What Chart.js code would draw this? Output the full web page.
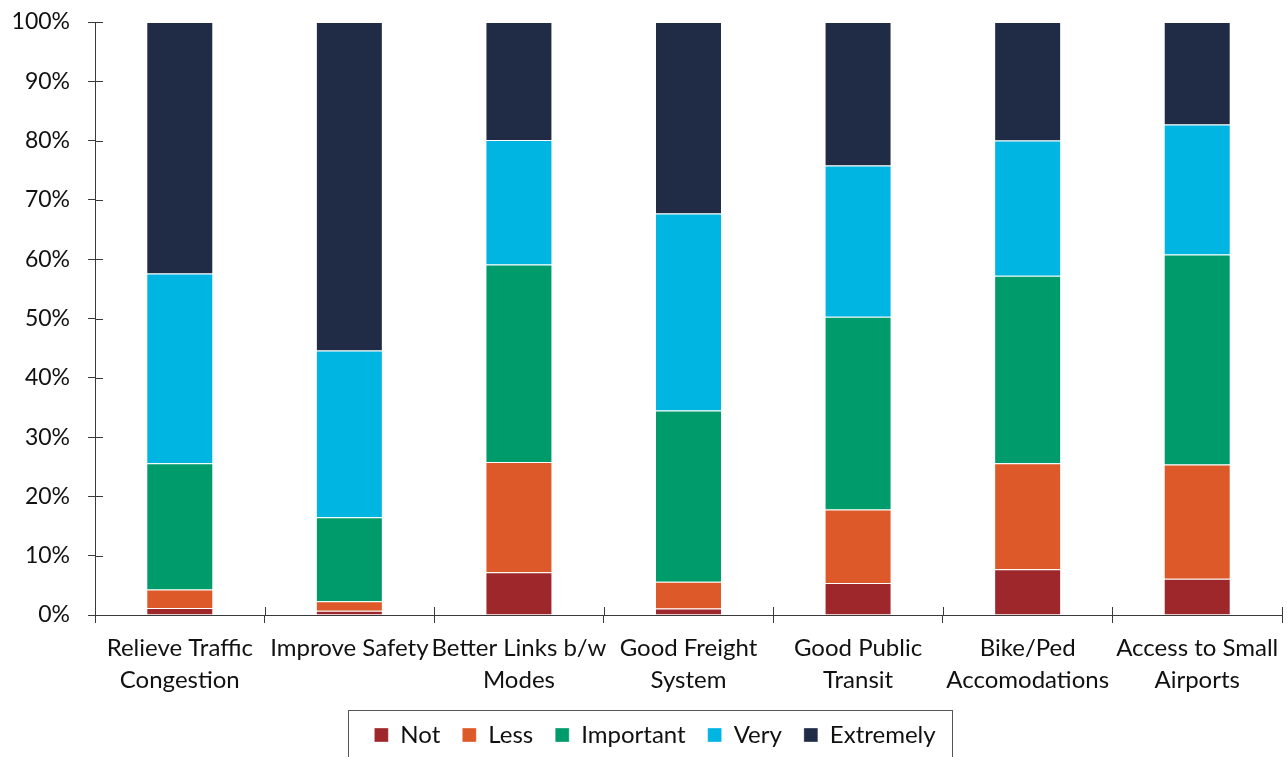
<!DOCTYPE html>
<html>
<head>
<meta charset="utf-8">
<script src="https://cdn.jsdelivr.net/npm/chart.js@4.4.1/dist/chart.umd.min.js"></script>
<style>
  html, body { margin: 0; padding: 0; background: #fff; }
  #wrap { width: 1287px; height: 757px; }
</style>
</head>
<body>
<div id="wrap"><canvas id="chart" width="1287" height="757"></canvas></div>
<script>
// categories (multi-line labels)
const categories = [
  ['Relieve Traffic', 'Congestion'],
  ['Improve Safety'],
  ['Better Links b/w', 'Modes'],
  ['Good Freight', 'System'],
  ['Good Public', 'Transit'],
  ['Bike/Ped', 'Accomodations'],
  ['Access to Small', 'Airports'],
];

// percent of respondents
const notImp    = [1.2, 0.7, 7.2, 1.1, 5.4, 7.7, 6.1];
const lessImp   = [3.1, 1.6, 18.6, 4.5, 12.4, 17.9, 19.3];
const important = [21.3, 14.2, 33.3, 28.9, 32.5, 31.6, 35.4];
const veryImp   = [32.0, 28.1, 21.0, 33.2, 25.5, 22.8, 21.9];
const extremely = [42.4, 55.4, 19.9, 32.3, 24.2, 20.0, 17.3];

const yTicks = [0, 10, 20, 30, 40, 50, 60, 70, 80, 90, 100];

const FONT = 'Lato, "Open Sans", sans-serif';
const AXIS = '#3a3a3a';

// ticks that cross the axis lines (inner half)
const crossTicks = {
  id: 'crossTicks',
  afterDraw(chart) {
    const { ctx, chartArea: a, scales: { x, y } } = chart;
    ctx.save();
    ctx.strokeStyle = AXIS;
    ctx.lineWidth = 1;
    ctx.beginPath();
    y.ticks.forEach((t, i) => {
      const py = Math.round(y.getPixelForTick(i)) + 0.5;
      ctx.moveTo(a.left, py); ctx.lineTo(a.left + 8, py);
    });
    for (let i = 0; i <= categories.length; i++) {
      const px = Math.round(x.getPixelForValue(i - 0.5)) + 0.5;
      ctx.moveTo(px, a.bottom); ctx.lineTo(px, a.bottom - 8);
    }
    ctx.stroke();
    ctx.restore();
  }
};

// legend sits a bit right of the canvas centre in the original
const legendShift = {
  id: 'legendShift',
  afterLayout(chart) {
    if (!chart.legend) return;
    chart.legend.left += 14;
    chart.legend.right += 14;
  }
};

// border round the legend, running off the bottom edge like the original
const legendFrame = {
  id: 'legendFrame',
  afterDraw(chart) {
    const boxes = chart.legend?.legendHitBoxes;
    if (!boxes || !boxes.length) return;
    const left = Math.min(...boxes.map(b => b.left)) - 26;
    const right = Math.max(...boxes.map(b => b.left + b.width)) + 17;
    const top = Math.min(...boxes.map(b => b.top)) - 13;
    const { ctx } = chart;
    ctx.save();
    ctx.strokeStyle = '#555';
    ctx.lineWidth = 1;
    ctx.strokeRect(Math.round(left) + 0.5, Math.round(top) + 0.5, Math.round(right - left), 80);
    ctx.restore();
  }
};

const mk = (label, data, color) => ({
  label, data,
  backgroundColor: color,
  borderColor: 'rgba(255,255,255,0.35)',
  borderWidth: 1,
  categoryPercentage: 1,
  barPercentage: 0.395,
});

new Chart(document.getElementById('chart'), {
  type: 'bar',
  data: {
    labels: categories,
    datasets: [
      mk('Not', notImp, '#9E272B'),
      mk('Less', lessImp, '#DD592A'),
      mk('Important', important, '#009B6A'),
      mk('Very', veryImp, '#00B5E2'),
      mk('Extremely', extremely, '#202B45'),
    ],
  },
  options: {
    responsive: false,
    animation: false,
    layout: { padding: { top: 22, right: 5, left: 0, bottom: 0 } },
    plugins: {
      tooltip: { enabled: false },
      legend: {
        position: 'bottom',
        labels: {
          boxWidth: 14, boxHeight: 14, padding: 22,
          color: '#111', font: { family: FONT, size: 24 },
        },
      },
    },
    scales: {
      x: {
        stacked: true,
        afterFit: s => { s.height = 86; s.paddingLeft = 0; s.paddingRight = 0; },
        grid: { offset: true, drawOnChartArea: false, drawTicks: true, tickLength: 8, color: AXIS },
        border: { display: true, color: AXIS, width: 1 },
        ticks: { color: '#111', font: { family: FONT, size: 24, lineHeight: 1.3 }, padding: 10, maxRotation: 0, autoSkip: false },
      },
      y: {
        stacked: true,
        min: 0, max: 100,
        afterFit: s => { s.width = 95; s.paddingTop = 0; s.paddingBottom = 0; },
        afterBuildTicks: s => { s.ticks = yTicks.map(v => ({ value: v })); },
        grid: { drawOnChartArea: false, drawTicks: true, tickLength: 7, color: AXIS },
        border: { display: true, color: AXIS, width: 1 },
        ticks: { color: '#111', font: { family: FONT, size: 23 }, padding: 18, callback: v => v + '%' },
      },
    },
  },
  plugins: [crossTicks, legendShift, legendFrame],
});
</script>
</body>
</html>
